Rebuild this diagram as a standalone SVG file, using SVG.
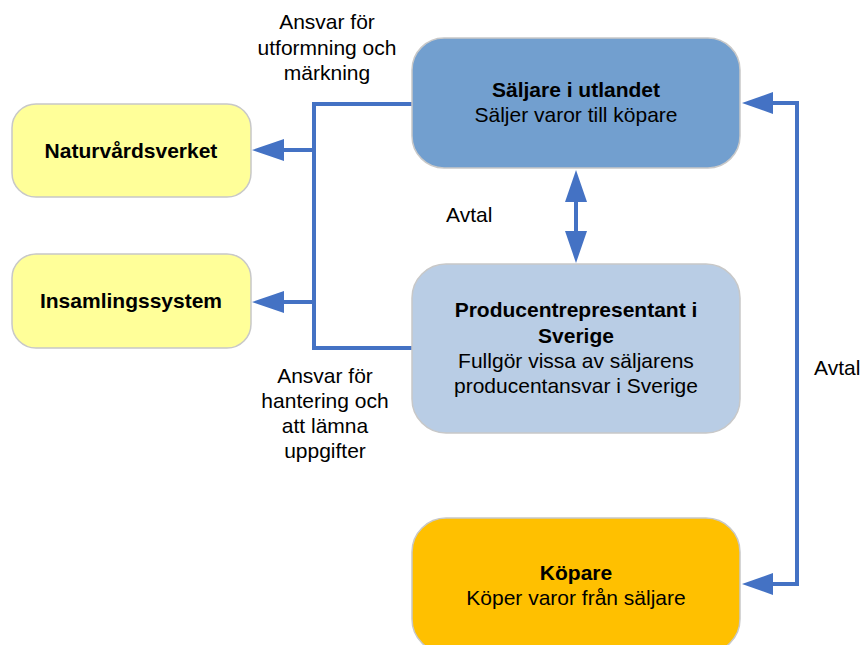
<svg xmlns="http://www.w3.org/2000/svg" width="863" height="645" viewBox="0 0 863 645">
<style>
text{font-family:"Liberation Sans",Arial,sans-serif;font-size:21px;fill:#000;text-anchor:middle}
.b{font-weight:bold}
.s{text-anchor:start}
.box{stroke:#c8c8c8;stroke-width:1.5}
.c{fill:none;stroke:#4472C4;stroke-width:4}
.ah{fill:#4472C4}
</style>
<rect width="863" height="645" fill="#fff"/>
<g id="connectors">
<polyline class="c" points="412,104 314,104 314,348 412,348"/>
<line class="c" x1="314" y1="150" x2="280" y2="150"/>
<polygon class="ah" points="252,150 284,139 284,161"/>
<line class="c" x1="314" y1="302" x2="280" y2="302"/>
<polygon class="ah" points="252,302 284,291 284,313"/>
<line class="c" x1="576" y1="198" x2="576" y2="234"/>
<polygon class="ah" points="576,170 565,202 587,202"/>
<polygon class="ah" points="576,263 565,231 587,231"/>
<polyline class="c" points="770,103 797,103 797,584 770,584"/>
<polygon class="ah" points="742,103 773,92 773,114"/>
<polygon class="ah" points="742,584 773,573 773,595"/>
<text x="327" y="29">Ansvar för</text>
<text x="327" y="55">utformning och</text>
<text x="327" y="80">märkning</text>
<text class="s" x="446" y="222">Avtal</text>
<text x="325" y="383">Ansvar för</text>
<text x="325" y="408">hantering och</text>
<text x="325" y="433">att lämna</text>
<text x="325" y="458">uppgifter</text>
<text class="s" x="814" y="375">Avtal</text>
</g>
<g id="naturvardsverket">
<rect class="box" x="12" y="104" width="239" height="93" rx="24" fill="#FFFF99"/>
<text class="b" x="131" y="158">Naturvårdsverket</text>
</g>
<g id="insamlingssystem">
<rect class="box" x="12" y="254" width="239" height="94" rx="24" fill="#FFFF99"/>
<text class="b" x="131" y="308">Insamlingssystem</text>
</g>
<g id="saljare">
<rect class="box" x="412" y="38" width="328" height="130" rx="32" fill="#729FCF"/>
<text class="b" x="576" y="97">Säljare i utlandet</text>
<text x="576" y="122">Säljer varor till köpare</text>
</g>
<g id="producentrepresentant">
<rect class="box" x="412" y="264" width="328" height="169" rx="34" fill="#B9CDE5"/>
<text class="b" x="576" y="317">Producentrepresentant i</text>
<text class="b" x="576" y="343">Sverige</text>
<text x="576" y="368">Fullgör vissa av säljarens</text>
<text x="576" y="393">producentansvar i Sverige</text>
</g>
<g id="kopare">
<rect class="box" x="412" y="518" width="328" height="135" rx="34" fill="#FFC000"/>
<text class="b" x="576" y="580">Köpare</text>
<text x="576" y="605">Köper varor från säljare</text>
</g>
</svg>
